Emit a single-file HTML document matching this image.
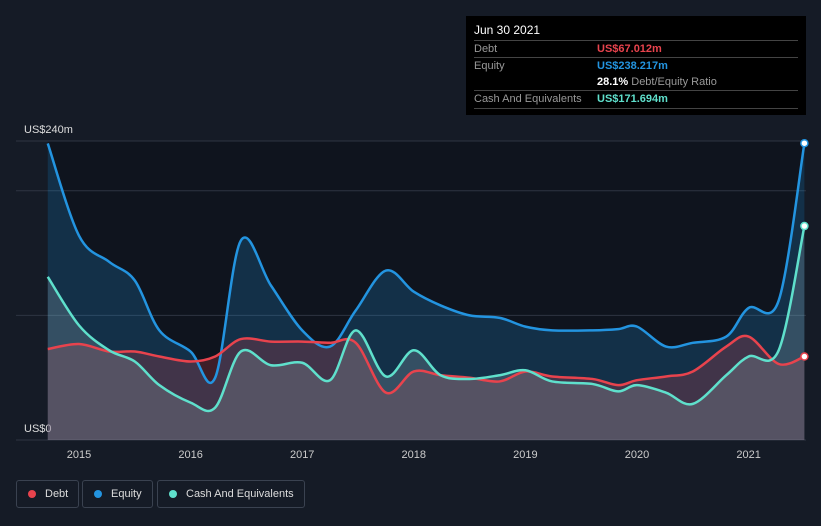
<!DOCTYPE html>
<html><head><meta charset="utf-8"><style>
body{margin:0;width:821px;height:526px;background:#151b26;font-family:"Liberation Sans",sans-serif;overflow:hidden;position:relative}
.tip{position:absolute;left:466px;top:16px;width:340px;height:99px;background:#000;color:#fff;font-size:11px}
.tip .row{position:absolute;left:8px;right:8px;border-top:1px solid #444;height:17px;line-height:17px}
.tip .l{color:#999;position:absolute;left:0}
.tip .v{position:absolute;left:123px;font-weight:bold}
.legend{position:absolute;top:480px;height:26px;border:1px solid #3a4250;border-radius:3px;color:#ddd;font-size:11px;line-height:26px;padding:0 10px 0 28px}
.legend i{position:absolute;left:11px;top:9px;width:8px;height:8px;border-radius:50%}
</style></head><body>
<svg id="chart" width="821" height="526" style="position:absolute;left:0;top:0"></svg>
<div class="tip">
 <div style="position:absolute;left:8px;top:7px;font-size:12px">Jun 30 2021</div>
 <div class="row" style="top:24px"><span class="l">Debt</span><span class="v" style="color:#e8434d">US$67.012m</span></div>
 <div class="row" style="top:41px"><span class="l">Equity</span><span class="v" style="color:#2394e0">US$238.217m</span></div>
 <div class="row" style="top:58px;border-top:none"><span class="v" style="color:#fff">28.1% <span style="color:#999;font-weight:normal">Debt/Equity Ratio</span></span></div>
 <div class="row" style="top:74px;border-bottom:1px solid #444"><span class="l">Cash And Equivalents</span><span class="v" style="color:#5fe0cc">US$171.694m</span></div>
</div>
<div class="legend" style="left:16px"><i style="background:#e8434d"></i>Debt</div>
<div class="legend" style="left:82px"><i style="background:#2394e0"></i>Equity</div>
<div class="legend" style="left:157px"><i style="background:#5fe0cc"></i>Cash And Equivalents</div>
<script>
const dates=[2014.72,2015.0,2015.27,2015.5,2015.72,2016.0,2016.22,2016.45,2016.72,2017.0,2017.25,2017.48,2017.75,2018.0,2018.24,2018.5,2018.77,2019.0,2019.24,2019.6,2019.83,2020.0,2020.26,2020.5,2020.8,2021.0,2021.27,2021.5];
const equity=[238,164,143,128,88,71,50,160,124,88,75,104,136,119,108,100,98,91,88,88,89,91,75,78,83,106,112,238.2];
const cash=[131,92,72,63,44,30,26,71,60,62,48,88,51,72,52,49,52,56,47,45,39,44,38,29,52,67,72,171.7];
const debt=[73,77,71,71,67,63,67,81,79,79,78,78,38,55,52,50,47,55,51,49,44,48,51,55,75,83,61,67];
const yTicks=[0,100,200,240];
const xTicks=[2015,2016,2017,2018,2019,2020,2021];
const X=t=>79+(t-2015)*111.6, Y=v=>440-v*1.246;
const svg=document.getElementById('chart'),NS='http://www.w3.org/2000/svg';
function mk(tag,attrs,name){const e=document.createElementNS(NS,tag);for(const k in attrs)e.setAttribute(k,attrs[k]);


svg.appendChild(e);return e;}
mk('rect',{x:X(dates[0]),y:Y(240),width:X(2021.5)-X(dates[0]),height:Y(0)-Y(240),fill:'#0f141e'},'plot-background');
yTicks.forEach(v=>mk('line',{x1:16,x2:806,y1:Y(v),y2:Y(v),stroke:'#2e3542','stroke-width':1},'gridline'));
mk('text',{x:24,y:Y(240)-8,fill:'#ddd','font-size':11},'y-label-max').textContent='US$240m';
mk('text',{x:24,y:Y(0)-8,fill:'#ddd','font-size':11},'y-label-zero').textContent='US$0';
xTicks.forEach(t=>{mk('text',{x:X(t),y:458,fill:'#ccc','font-size':11,'text-anchor':'middle'},'x-tick-label').textContent=t;});
function path(vals){const p=vals.map((v,i)=>[X(dates[i]),Y(v)]);let d='M'+p[0];
for(let i=0;i<p.length-1;i++){const p0=p[Math.max(0,i-1)],p1=p[i],p2=p[i+1],p3=p[Math.min(p.length-1,i+2)];
const c1=[p1[0]+(p2[0]-p0[0])/6,p1[1]+(p2[1]-p0[1])/6],c2=[p2[0]-(p3[0]-p1[0])/6,p2[1]-(p3[1]-p1[1])/6];
d+=' C'+c1+' '+c2+' '+p2;}return d;}
const base=' L'+X(dates[dates.length-1])+','+Y(0)+' L'+X(dates[0])+','+Y(0)+' Z';
mk('path',{d:path(equity)+base,fill:'rgba(35,148,224,0.22)'},'equity-area');
mk('path',{d:path(debt)+base,fill:'rgba(232,67,77,0.22)'},'debt-area');
mk('path',{d:path(cash)+base,fill:'rgba(140,160,170,0.28)'},'cash-area');
[[equity,'#2394e0','equity-line'],[debt,'#e8434d','debt-line'],[cash,'#5fe0cc','cash-line']].forEach(([s,c,n])=>{
mk('path',{d:path(s),fill:'none',stroke:c,'stroke-width':2.5},n);
mk('circle',{cx:X(dates[dates.length-1]),cy:Y(s[s.length-1]),r:3.5,fill:'#fff',stroke:c,'stroke-width':1.5},n+'-end-point');});
</script>
</body></html>
